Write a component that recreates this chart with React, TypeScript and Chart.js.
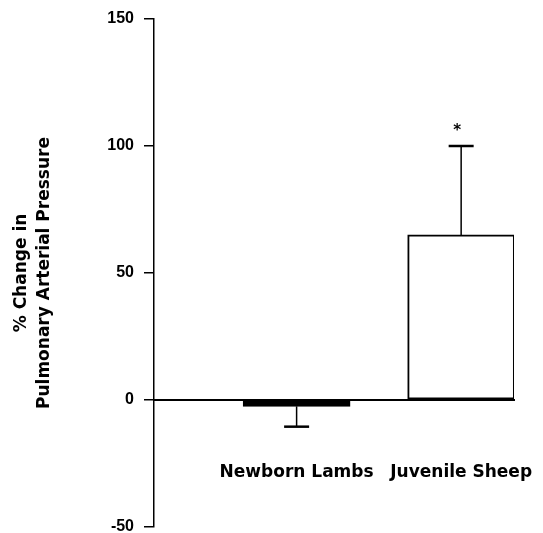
import React, { useEffect, useRef } from "react";
import { Chart, registerables } from "chart.js";

Chart.register(...registerables);

const categories = ["Newborn Lambs", "Juvenile Sheep"];
const categoryPositions = [1, 2];
const meanValues = [-2.5, 65];
const errorEnds = [-10.5, 100];
const significance = ["", "*"];
const barFills = ["#000000", "#ffffff"];
const yTicks = [-50, 0, 50, 100, 150];
const yTitle = ["% Change in", "Pulmonary Arterial Pressure"];

const errorBarPlugin = {
  id: "errorBars",
  afterDatasetsDraw(chart: any) {
    const ctx = chart.ctx;
    const yScale = chart.scales.y;
    const meta = chart.getDatasetMeta(0);
    ctx.save();
    ctx.strokeStyle = "#000";
    ctx.fillStyle = "#000";
    meta.data.forEach((bar: any, i: number) => {
      const x = bar.x;
      const yStart = yScale.getPixelForValue(meanValues[i]);
      const yEnd = yScale.getPixelForValue(errorEnds[i]);
      ctx.lineWidth = 1.5;
      ctx.beginPath();
      ctx.moveTo(x, yStart);
      ctx.lineTo(x, yEnd);
      ctx.stroke();
      ctx.lineWidth = 2.5;
      ctx.beginPath();
      ctx.moveTo(x - 12.5, yEnd);
      ctx.lineTo(x + 12.5, yEnd);
      ctx.stroke();
      if (significance[i]) {
        ctx.font = "bold 15px 'DejaVu Sans'";
        ctx.textAlign = "center";
        ctx.textBaseline = "middle";
        ctx.fillText(significance[i], x - 4, yEnd - 15);
      }
    });
    ctx.restore();
  },
};

export default function App() {
  const ref = useRef<HTMLCanvasElement>(null);
  useEffect(() => {
    if (!ref.current) return;
    Chart.defaults.color = "#000";
    const chart = new Chart(ref.current, {
      type: "bar",
      data: {
        datasets: [
          {
            data: categoryPositions.map((x, i) => ({ x, y: meanValues[i] })),
            backgroundColor: barFills,
            borderColor: "#000",
            borderWidth: 2,
            borderSkipped: false,
            barThickness: 107,
          },
        ],
      },
      options: {
        responsive: false,
        animation: false,
        layout: { padding: { top: 19, bottom: 6, left: 0, right: 29 } },
        plugins: { legend: { display: false }, tooltip: { enabled: false } },
        scales: {
          x: {
            type: "linear",
            position: { y: 0 } as any,
            offset: false,
            grace: 0,
            min: 0.1333,
            max: 2.3212,
            afterBuildTicks: (scale: any) => {
              scale.ticks = categoryPositions.map((v) => ({ value: v }));
            },
            afterFit: (scale: any) => {
              scale.paddingLeft = 0;
              scale.paddingRight = 0;
            },
            ticks: {
              autoSkip: false,
              maxRotation: 0,
              padding: 62,
              font: { family: "'DejaVu Sans'", size: 17, weight: "bold" },
              callback: (v: any) => {
                const idx = categoryPositions.indexOf(Number(v));
                return idx >= 0 ? categories[idx] : "";
              },
            },
            grid: { display: true, drawOnChartArea: false, drawTicks: false },
            border: { display: true, color: "#000", width: 2 },
          },
          y: {
            min: -50,
            max: 150,
            afterBuildTicks: (scale: any) => {
              scale.ticks = yTicks.map((v) => ({ value: v }));
            },
            afterFit: (scale: any) => {
              scale.width = 154;
              scale.paddingTop = 0;
              scale.paddingBottom = 0;
            },
            ticks: {
              padding: 10,
              font: { family: "'Liberation Sans'", size: 16, weight: "bold" },
            },
            grid: {
              display: true,
              drawOnChartArea: false,
              drawTicks: true,
              tickLength: 10,
              color: "#000",
              lineWidth: 1.5,
            },
            border: { display: true, color: "#000", width: 1.5 },
            title: {
              display: true,
              text: yTitle,
              padding: { top: 10, bottom: 0 },
              font: { family: "'DejaVu Sans'", size: 17, weight: "bold", lineHeight: 1.35 },
            },
          },
        },
      },
      plugins: [errorBarPlugin],
    });
    return () => chart.destroy();
  }, []);
  return (
    <div style={{ position: "absolute", left: 0, top: 0, width: 543, height: 533, background: "#fff" }}>
      <canvas ref={ref} width={543} height={533} />
    </div>
  );
}
